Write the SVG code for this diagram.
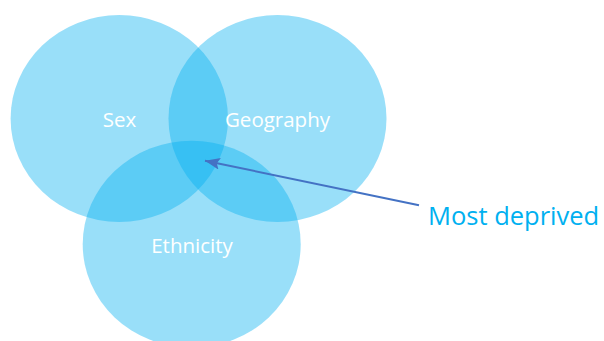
<svg xmlns="http://www.w3.org/2000/svg" width="604" height="341" viewBox="0 0 604 341">
<style>
.c{fill:#00B0F0;fill-opacity:0.4}
.l{font-family:"Open Sans","Liberation Sans",sans-serif;font-size:20.5px;fill:#fff;text-anchor:middle}
.m{font-family:"Open Sans","Liberation Sans",sans-serif;font-size:25.5px;fill:#00B0F0}
</style>
<defs>
<marker id="ah" markerWidth="15" markerHeight="12" refX="15" refY="6" orient="auto" markerUnits="userSpaceOnUse" viewBox="0 0 15 12">
<path d="M0,0 L15,6 L0,12 L3,6 z" fill="#4472C4"/>
</marker>
</defs>
<rect width="604" height="341" fill="#fff"/>
<g id="sex"><ellipse class="c" cx="119.3" cy="118.5" rx="108.7" ry="103.5"/></g>
<g id="geography"><ellipse class="c" cx="277.5" cy="118.5" rx="109" ry="103.5"/></g>
<g id="ethnicity"><ellipse class="c" cx="191.7" cy="244.2" rx="109" ry="103.5"/></g>
<g id="labels">
<text class="l" x="119.5" y="127">Sex</text>
<text class="l" x="277.5" y="127">Geography</text>
<text class="l" x="192" y="252.5">Ethnicity</text>
</g>
<g id="most-deprived"><text class="m" x="428" y="225">Most deprived</text></g>
<g id="connectors">
<line x1="419" y1="205.3" x2="205" y2="160.7" stroke="#4472C4" stroke-width="2" marker-end="url(#ah)"/>
</g>
</svg>
